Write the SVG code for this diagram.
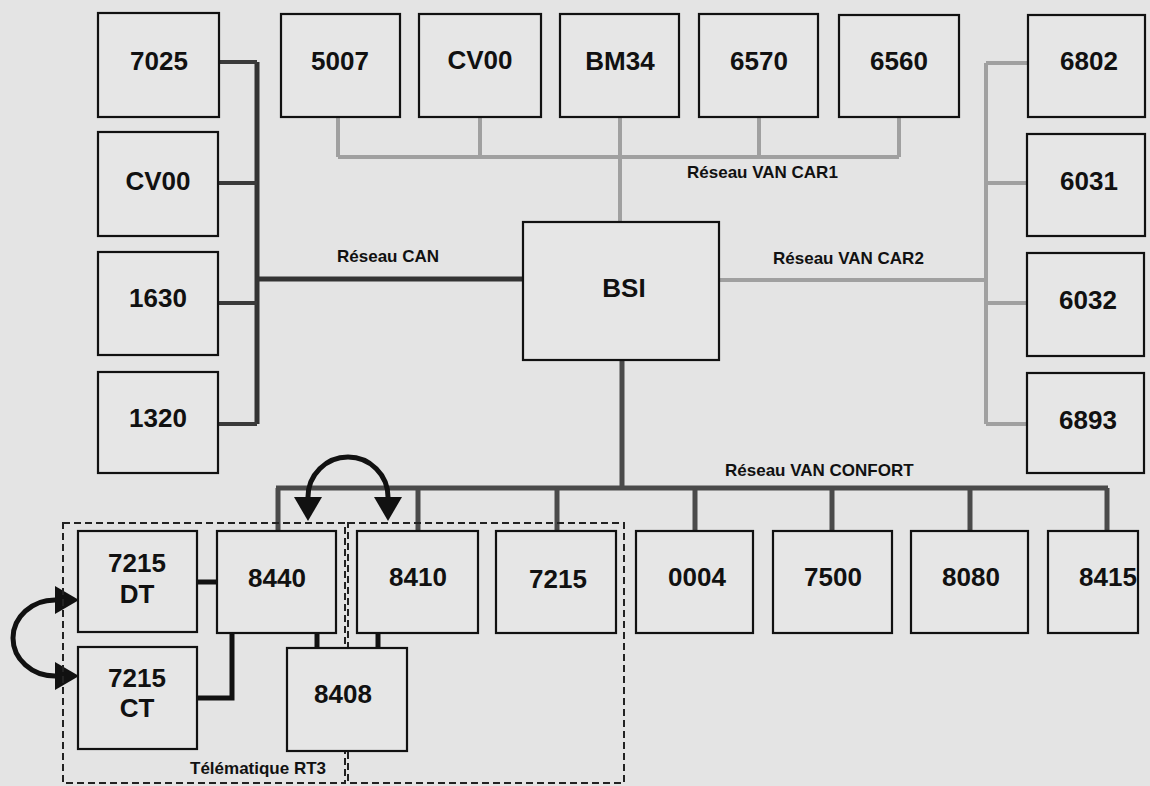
<svg xmlns="http://www.w3.org/2000/svg" width="1150" height="786" viewBox="0 0 1150 786">
<defs>
<style>
.bg{fill:#e4e4e4}
.box{fill:#e6e6e6;stroke:#111;stroke-width:2.2}
.lbl{font-family:"Liberation Sans",Arial,sans-serif;font-weight:bold;font-size:26px;fill:#111;text-anchor:middle}
.net{font-family:"Liberation Sans",Arial,sans-serif;font-weight:bold;font-size:17px;fill:#111}
.can{stroke:#333;stroke-width:5;fill:none}
.canstub{stroke:#3a3a3a;stroke-width:4;fill:none}
.van{stroke:#a0a0a0;stroke-width:4;fill:none}
.conf{stroke:#4a4a4a;stroke-width:5;fill:none}
.link{stroke:#111;stroke-width:5;fill:none}
.dash{fill:none;stroke:#222;stroke-width:2;stroke-dasharray:7 4}
.arc{stroke:#111;stroke-width:5;fill:none;marker-start:url(#ah);marker-end:url(#ah)}
</style>
<marker id="ah" markerUnits="userSpaceOnUse" viewBox="0 0 24 28" refX="0" refY="14" markerWidth="24" markerHeight="28" orient="auto-start-reverse">
<path d="M0,0 L24,14 L0,28 z" fill="#111"/>
</marker>
</defs>
<rect class="bg" x="0" y="0" width="1150" height="786"/>

<g id="connectors">
<!-- CAN -->
<path class="can" d="M257,62 V424"/>
<path class="canstub" d="M219,62 H257 M218,183 H257 M218,303 H257 M218,424 H257"/>
<path class="can" d="M257,279 H523"/>
<!-- VAN CAR1 -->
<path class="van" d="M338,117 V157 M480,117 V157 M759,117 V157 M899,117 V157 M338,157 H899"/>
<path class="van" d="M620,117 V222"/>
<!-- VAN CAR2 -->
<path class="van" d="M719,280 H986 M986,63 V424 M986,63 H1028 M986,183 H1027 M986,303 H1027 M986,424 H1027"/>
<!-- VAN CONFORT -->
<path class="conf" d="M622,360 V488 M276,488 H1108"/>
<path class="conf" d="M278,488 V531 M418,488 V531 M557,488 V531 M695,488 V531 M832,488 V531 M970,488 V531 M1107,488 V531"/>
<!-- Telematique links -->
<path class="link" d="M197,582 H217"/>
<path class="link" d="M197,698 H232 V633"/>
<path class="link" d="M317,633 V648 M378,633 V648"/>
<!-- exchange arrows -->
<path class="arc" d="M308,497 A40,40 0 0 1 388,497"/>
<path class="arc" d="M55,600 A42,38 0 0 0 55,676"/>
</g>

<g id="group-rt3">
<rect class="dash" x="63" y="523" width="282" height="260"/>
<rect class="dash" x="348" y="523" width="276" height="260"/>
<text class="net" x="190" y="774">Télématique RT3</text>
</g>

<g id="labels">
<text class="net" x="337" y="262">Réseau CAN</text>
<text class="net" x="687" y="178">Réseau VAN CAR1</text>
<text class="net" x="773" y="264">Réseau VAN CAR2</text>
<text class="net" x="725" y="476">Réseau VAN CONFORT</text>
</g>

<g id="n7025"><rect class="box" x="98" y="13" width="121" height="104"/><text class="lbl" x="159" y="70">7025</text></g>
<g id="nCV00L"><rect class="box" x="98" y="132" width="120" height="104"/><text class="lbl" x="158" y="190">CV00</text></g>
<g id="n1630"><rect class="box" x="98" y="252" width="120" height="103"/><text class="lbl" x="158" y="307">1630</text></g>
<g id="n1320"><rect class="box" x="98" y="372" width="120" height="101"/><text class="lbl" x="158" y="427">1320</text></g>

<g id="n5007"><rect class="box" x="281" y="14" width="119" height="103"/><text class="lbl" x="340" y="70">5007</text></g>
<g id="nCV00T"><rect class="box" x="419" y="14" width="122" height="103"/><text class="lbl" x="480" y="69">CV00</text></g>
<g id="nBM34"><rect class="box" x="560" y="14" width="119" height="103"/><text class="lbl" x="620" y="70">BM34</text></g>
<g id="n6570"><rect class="box" x="699" y="14" width="119" height="103"/><text class="lbl" x="759" y="70">6570</text></g>
<g id="n6560"><rect class="box" x="839" y="15" width="120" height="102"/><text class="lbl" x="899" y="70">6560</text></g>

<g id="n6802"><rect class="box" x="1028" y="15" width="117" height="102"/><text class="lbl" x="1089" y="70">6802</text></g>
<g id="n6031"><rect class="box" x="1027" y="134" width="118" height="102"/><text class="lbl" x="1089" y="190">6031</text></g>
<g id="n6032"><rect class="box" x="1027" y="253" width="117" height="103"/><text class="lbl" x="1088" y="309">6032</text></g>
<g id="n6893"><rect class="box" x="1027" y="373" width="117" height="100"/><text class="lbl" x="1088" y="429">6893</text></g>

<g id="nBSI"><rect class="box" x="523" y="222" width="196" height="138"/><text class="lbl" x="624" y="297">BSI</text></g>

<g id="n7215DT"><rect class="box" x="78" y="531" width="119" height="101"/><text class="lbl" x="137" y="572">7215</text><text class="lbl" x="137" y="603">DT</text></g>
<g id="n7215CT"><rect class="box" x="78" y="647" width="119" height="102"/><text class="lbl" x="137" y="687">7215</text><text class="lbl" x="137" y="717">CT</text></g>
<g id="n8440"><rect class="box" x="217" y="531" width="119" height="102"/><text class="lbl" x="277" y="587">8440</text></g>
<g id="n8408"><rect class="box" x="287" y="648" width="120" height="103"/><text class="lbl" x="343" y="703">8408</text></g>
<g id="n8410"><rect class="box" x="357" y="531" width="121" height="102"/><text class="lbl" x="418" y="586">8410</text></g>
<g id="n7215"><rect class="box" x="496" y="531" width="120" height="102"/><text class="lbl" x="558" y="588">7215</text></g>
<g id="n0004"><rect class="box" x="636" y="531" width="117" height="102"/><text class="lbl" x="697" y="586">0004</text></g>
<g id="n7500"><rect class="box" x="773" y="531" width="119" height="102"/><text class="lbl" x="833" y="586">7500</text></g>
<g id="n8080"><rect class="box" x="911" y="531" width="117" height="102"/><text class="lbl" x="971" y="586">8080</text></g>
<g id="n8415"><rect class="box" x="1048" y="531" width="90" height="102"/><text class="lbl" x="1108" y="586">8415</text></g>
</svg>
